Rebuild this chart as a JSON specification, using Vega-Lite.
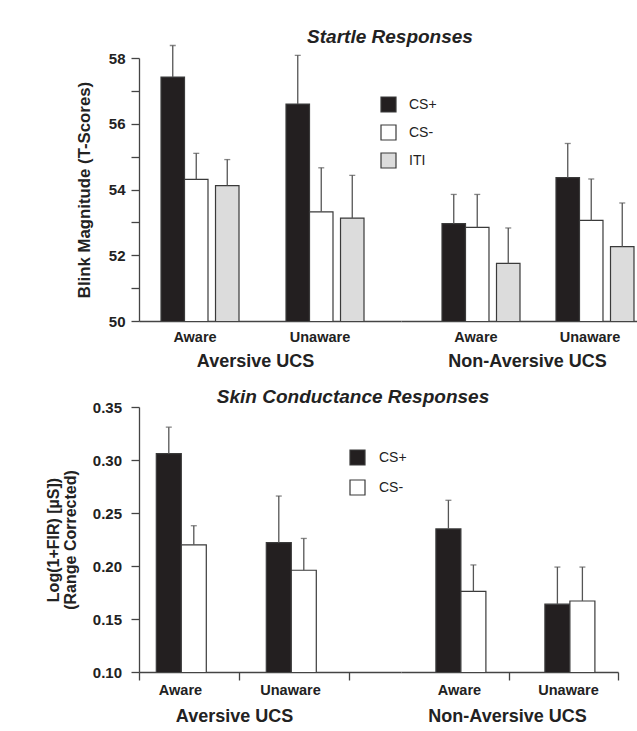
{
  "$schema": "https://vega.github.io/schema/vega-lite/v6.json",
  "padding": {"left": 45, "top": 27, "right": 0, "bottom": 0},
  "background": "white",
  "datasets": {
    "startle": [
      {"ucs": "Aversive UCS", "aware": "Aware", "stim": "CS+", "mean": 57.42, "upper": 58.38},
      {"ucs": "Aversive UCS", "aware": "Aware", "stim": "CS-", "mean": 54.31, "upper": 55.10},
      {"ucs": "Aversive UCS", "aware": "Aware", "stim": "ITI", "mean": 54.12, "upper": 54.91},
      {"ucs": "Aversive UCS", "aware": "Unaware", "stim": "CS+", "mean": 56.60, "upper": 58.08},
      {"ucs": "Aversive UCS", "aware": "Unaware", "stim": "CS-", "mean": 53.32, "upper": 54.66},
      {"ucs": "Aversive UCS", "aware": "Unaware", "stim": "ITI", "mean": 53.13, "upper": 54.43},
      {"ucs": "Non-Aversive UCS", "aware": "Aware", "stim": "CS+", "mean": 52.96, "upper": 53.85},
      {"ucs": "Non-Aversive UCS", "aware": "Aware", "stim": "CS-", "mean": 52.85, "upper": 53.85},
      {"ucs": "Non-Aversive UCS", "aware": "Aware", "stim": "ITI", "mean": 51.75, "upper": 52.83},
      {"ucs": "Non-Aversive UCS", "aware": "Unaware", "stim": "CS+", "mean": 54.36, "upper": 55.40},
      {"ucs": "Non-Aversive UCS", "aware": "Unaware", "stim": "CS-", "mean": 53.06, "upper": 54.32},
      {"ucs": "Non-Aversive UCS", "aware": "Unaware", "stim": "ITI", "mean": 52.26, "upper": 53.59}
    ],
    "scr": [
      {"ucs": "Aversive UCS", "aware": "Aware", "stim": "CS+", "mean": 0.306, "upper": 0.331},
      {"ucs": "Aversive UCS", "aware": "Aware", "stim": "CS-", "mean": 0.220, "upper": 0.238},
      {"ucs": "Aversive UCS", "aware": "Unaware", "stim": "CS+", "mean": 0.222, "upper": 0.266},
      {"ucs": "Aversive UCS", "aware": "Unaware", "stim": "CS-", "mean": 0.196, "upper": 0.226},
      {"ucs": "Non-Aversive UCS", "aware": "Aware", "stim": "CS+", "mean": 0.235, "upper": 0.262},
      {"ucs": "Non-Aversive UCS", "aware": "Aware", "stim": "CS-", "mean": 0.176, "upper": 0.201},
      {"ucs": "Non-Aversive UCS", "aware": "Unaware", "stim": "CS+", "mean": 0.164, "upper": 0.199},
      {"ucs": "Non-Aversive UCS", "aware": "Unaware", "stim": "CS-", "mean": 0.167, "upper": 0.199}
    ]
  },
  "columns": 2,
  "bounds": "flush",
  "spacing": {"row": 86, "column": 0},
  "resolve": {
    "scale": {"x": "independent", "y": "independent", "xOffset": "independent", "fill": "independent"},
    "legend": {"fill": "independent"},
    "axis": {"x": "independent", "y": "independent"}
  },
  "concat": [
    {
      "data": {"name": "startle"},
      "width": 262,
      "height": 263,
      "title": {"text": "Startle Responses", "fontStyle": "italic", "fontWeight": "bold", "fontSize": 19, "anchor": "middle", "dx": 120, "offset": -2, "color": "#222"},
      "transform": [{"filter": "datum.ucs === 'Aversive UCS'"}],
      "encoding": {
        "x": {"field": "aware", "type": "nominal",
          "scale": {"domain": ["Aware", "Unaware"], "paddingInner": 0.376, "paddingOuter": 0.236, "align": 0.373},
          "axis": {"title": "Aversive UCS", "labelAngle": 0, "ticks": false, "tickSize": 0, "labelPadding": 9, "labelOffset": -5, "titlePadding": 9, "titleX": 116}},
        "y": {"field": "mean", "type": "quantitative", "scale": {"domain": [50, 58], "nice": false, "zero": false},
          "axis": {"title": "Blink Magnitude (T-Scores)", "values": [50, 51, 52, 53, 54, 55, 56, 57, 58], "labelExpr": "datum.value % 2 === 0 ? datum.label : ''", "tickSize": 8, "labelPadding": 6, "titlePadding": 15, "titleFontSize": 16.8, "labelFontSize": 15}}
      },
      "resolve": {"scale": {"xOffset": "independent"}},
      "layer": [
        {
          "transform": [{"filter": "datum.stim !== 'ITI'"}],
          "encoding": {"xOffset": {"field": "stim", "type": "nominal", "scale": {"domain": ["CS+", "CS-", "ITI"], "paddingInner": 0, "paddingOuter": 0.16, "align": 0}}},
          "layer": [
            {
              "mark": {"type": "bar", "stroke": "#3a3a3a", "strokeWidth": 1.2, "clip": true},
              "encoding": {
                "fill": {"field": "stim", "type": "nominal", "scale": {"domain": ["CS+", "CS-", "ITI"], "range": ["#231f20", "#ffffff", "#dcdcdc"]},
                  "legend": {"orient": "none", "legendX": 241, "legendY": 38, "title": null, "padding": 0, "symbolType": "square", "symbolSize": 225, "symbolStrokeColor": "#3a3a3a", "symbolStrokeWidth": 1.2, "symbolOpacity": 1, "labelFontSize": 14, "labelFontWeight": "normal", "labelColor": "#222", "rowPadding": 7, "labelOffset": 12}}
              }
            },
            {"mark": {"type": "rule", "color": "#555", "strokeWidth": 1.3}, "encoding": {"y2": {"field": "upper"}}},
            {"mark": {"type": "tick", "orient": "horizontal", "size": 6, "thickness": 1.3, "color": "#555"},
              "encoding": {"y": {"field": "upper", "type": "quantitative", "title": "Blink Magnitude (T-Scores)"}}}
          ]
        },
        {
          "transform": [{"filter": "datum.stim === 'ITI'"}],
          "encoding": {"xOffset": {"field": "stim", "type": "nominal", "scale": {"domain": ["CS+", "CS-", "ITI"], "paddingInner": 0, "paddingOuter": 0.16, "align": 1}}},
          "layer": [
            {
              "mark": {"type": "bar", "stroke": "#3a3a3a", "strokeWidth": 1.2, "clip": true},
              "encoding": {
                "fill": {"field": "stim", "type": "nominal", "scale": {"domain": ["CS+", "CS-", "ITI"], "range": ["#231f20", "#ffffff", "#dcdcdc"]},
                  "legend": {"orient": "none", "legendX": 241, "legendY": 38, "title": null, "padding": 0, "symbolType": "square", "symbolSize": 225, "symbolStrokeColor": "#3a3a3a", "symbolStrokeWidth": 1.2, "symbolOpacity": 1, "labelFontSize": 14, "labelFontWeight": "normal", "labelColor": "#222", "rowPadding": 7, "labelOffset": 12}}
              }
            },
            {"mark": {"type": "rule", "color": "#555", "strokeWidth": 1.3}, "encoding": {"y2": {"field": "upper"}}},
            {"mark": {"type": "tick", "orient": "horizontal", "size": 6, "thickness": 1.3, "color": "#555"},
              "encoding": {"y": {"field": "upper", "type": "quantitative", "title": "Blink Magnitude (T-Scores)"}}}
          ]
        }
      ]
    },
    {
      "data": {"name": "startle"},
      "width": 237,
      "height": 263,
      "transform": [{"filter": "datum.ucs === 'Non-Aversive UCS'"}],
      "encoding": {
        "x": {"field": "aware", "type": "nominal",
          "scale": {"domain": ["Aware", "Unaware"], "paddingInner": 0.3158, "paddingOuter": 0.1974, "align": 0.911},
          "axis": {"title": "Non-Aversive UCS", "labelAngle": 0, "ticks": false, "tickSize": 0, "labelPadding": 9, "labelOffset": -5, "titlePadding": 9, "titleX": 126}},
        "y": {"field": "mean", "type": "quantitative", "scale": {"domain": [50, 58], "nice": false, "zero": false}, "axis": null}
      },
      "resolve": {"scale": {"xOffset": "independent"}},
      "layer": [
        {
          "transform": [{"filter": "datum.stim !== 'ITI'"}],
          "encoding": {"xOffset": {"field": "stim", "type": "nominal", "scale": {"domain": ["CS+", "CS-", "ITI"], "paddingInner": 0, "paddingOuter": 0.16, "align": 0}}},
          "layer": [
            {
              "mark": {"type": "bar", "stroke": "#3a3a3a", "strokeWidth": 1.2, "clip": true},
              "encoding": {"fill": {"field": "stim", "type": "nominal", "scale": {"domain": ["CS+", "CS-", "ITI"], "range": ["#231f20", "#ffffff", "#dcdcdc"]}, "legend": null}}
            },
            {"mark": {"type": "rule", "color": "#555", "strokeWidth": 1.3}, "encoding": {"y2": {"field": "upper"}}},
            {"mark": {"type": "tick", "orient": "horizontal", "size": 6, "thickness": 1.3, "color": "#555"},
              "encoding": {"y": {"field": "upper", "type": "quantitative", "axis": null}}}
          ]
        },
        {
          "transform": [{"filter": "datum.stim === 'ITI'"}],
          "encoding": {"xOffset": {"field": "stim", "type": "nominal", "scale": {"domain": ["CS+", "CS-", "ITI"], "paddingInner": 0, "paddingOuter": 0.16, "align": 1}}},
          "layer": [
            {
              "mark": {"type": "bar", "stroke": "#3a3a3a", "strokeWidth": 1.2, "clip": true},
              "encoding": {"fill": {"field": "stim", "type": "nominal", "scale": {"domain": ["CS+", "CS-", "ITI"], "range": ["#231f20", "#ffffff", "#dcdcdc"]}, "legend": null}}
            },
            {"mark": {"type": "rule", "color": "#555", "strokeWidth": 1.3}, "encoding": {"y2": {"field": "upper"}}},
            {"mark": {"type": "tick", "orient": "horizontal", "size": 6, "thickness": 1.3, "color": "#555"},
              "encoding": {"y": {"field": "upper", "type": "quantitative", "axis": null}}}
          ]
        }
      ]
    },
    {
      "data": {"name": "scr"},
      "width": 262,
      "height": 265,
      "title": {"text": "Skin Conductance Responses", "fontStyle": "italic", "fontWeight": "bold", "fontSize": 19, "anchor": "middle", "dx": 83, "offset": -7, "color": "#222"},
      "transform": [{"filter": "datum.ucs === 'Aversive UCS'"}],
      "encoding": {
        "x": {"field": "aware", "type": "nominal",
          "scale": {"domain": ["Aware", "Unaware"], "paddingInner": 0.0909, "paddingOuter": 0.2364, "align": 0},
          "axis": {"title": "Aversive UCS", "labelAngle": 0, "tickBand": "extent", "tickSize": 8, "labelPadding": 3, "labelOffset": -9, "titlePadding": 11, "titleX": 95}},
        "xOffset": {"field": "stim", "type": "nominal", "scale": {"domain": ["CS+", "CS-"], "paddingInner": 0, "paddingOuter": 1.0833, "align": 0.346}},
        "y": {"field": "mean", "type": "quantitative", "scale": {"domain": [0.10, 0.35], "nice": false, "zero": false},
          "axis": {"title": ["Log(1+FIR) [µS])", "(Range Corrected)"], "values": [0.10, 0.15, 0.20, 0.25, 0.30, 0.35], "format": ".2f", "tickSize": 8, "labelPadding": 9.5, "titlePadding": 14, "titleLineHeight": 17, "titleFontSize": 16, "labelFontSize": 15}}
      },
      "layer": [
        {
          "mark": {"type": "bar", "stroke": "#3a3a3a", "strokeWidth": 1.2, "clip": true},
          "encoding": {
            "fill": {"field": "stim", "type": "nominal", "scale": {"domain": ["CS+", "CS-"], "range": ["#231f20", "#ffffff"]},
              "legend": {"orient": "none", "legendX": 210, "legendY": 42, "title": null, "padding": 0, "symbolType": "square", "symbolSize": 225, "symbolStrokeColor": "#3a3a3a", "symbolStrokeWidth": 1.2, "symbolOpacity": 1, "labelFontSize": 14, "labelFontWeight": "normal", "labelColor": "#222", "rowPadding": 9, "labelOffset": 13}}
          }
        },
        {"mark": {"type": "rule", "color": "#555", "strokeWidth": 1.3}, "encoding": {"y2": {"field": "upper"}}},
        {"mark": {"type": "tick", "orient": "horizontal", "size": 6, "thickness": 1.3, "color": "#555"},
          "encoding": {"y": {"field": "upper", "type": "quantitative", "title": ["Log(1+FIR) [µS])", "(Range Corrected)"]}}}
      ]
    },
    {
      "data": {"name": "scr"},
      "width": 217,
      "height": 265,
      "transform": [{"filter": "datum.ucs === 'Non-Aversive UCS'"}],
      "encoding": {
        "x": {"field": "aware", "type": "nominal",
          "scale": {"domain": ["Aware", "Unaware"], "paddingInner": 0.0826, "paddingOuter": 0.0367, "align": 1},
          "axis": {"title": "Non-Aversive UCS", "labelAngle": 0, "tickBand": "extent", "tickSize": 8, "labelPadding": 3, "titlePadding": 11, "titleX": 106,
            "tickOpacity": {"condition": {"test": "datum.extra || datum.index < 0", "value": 0}, "value": 1}}},
        "xOffset": {"field": "stim", "type": "nominal", "scale": {"domain": ["CS+", "CS-"], "paddingInner": 0, "paddingOuter": 1.0833, "align": 0.538}},
        "y": {"field": "mean", "type": "quantitative", "scale": {"domain": [0.10, 0.35], "nice": false, "zero": false}, "axis": null}
      },
      "layer": [
        {
          "mark": {"type": "bar", "stroke": "#3a3a3a", "strokeWidth": 1.2, "clip": true},
          "encoding": {"fill": {"field": "stim", "type": "nominal", "scale": {"domain": ["CS+", "CS-"], "range": ["#231f20", "#ffffff"]}, "legend": null}}
        },
        {"mark": {"type": "rule", "color": "#555", "strokeWidth": 1.3}, "encoding": {"y2": {"field": "upper"}}},
        {"mark": {"type": "tick", "orient": "horizontal", "size": 6, "thickness": 1.3, "color": "#555"},
          "encoding": {"y": {"field": "upper", "type": "quantitative", "axis": null}}}
      ]
    }
  ],
  "config": {
    "font": "Liberation Sans",
    "view": {"stroke": null},
    "axis": {
      "grid": false,
      "labelFont": "Liberation Sans",
      "labelFontWeight": "bold",
      "labelFontSize": 14,
      "labelColor": "#222",
      "titleFont": "Liberation Sans",
      "titleFontWeight": "bold",
      "titleColor": "#222",
      "domainColor": "#444",
      "domainWidth": 1.3,
      "tickColor": "#444",
      "tickWidth": 1.3
    },
    "axisX": {"titleFontSize": 18, "labelFontSize": 14.5},
    "legend": {"labelFont": "Liberation Sans"},
    "title": {"font": "Liberation Sans"}
  }
}
